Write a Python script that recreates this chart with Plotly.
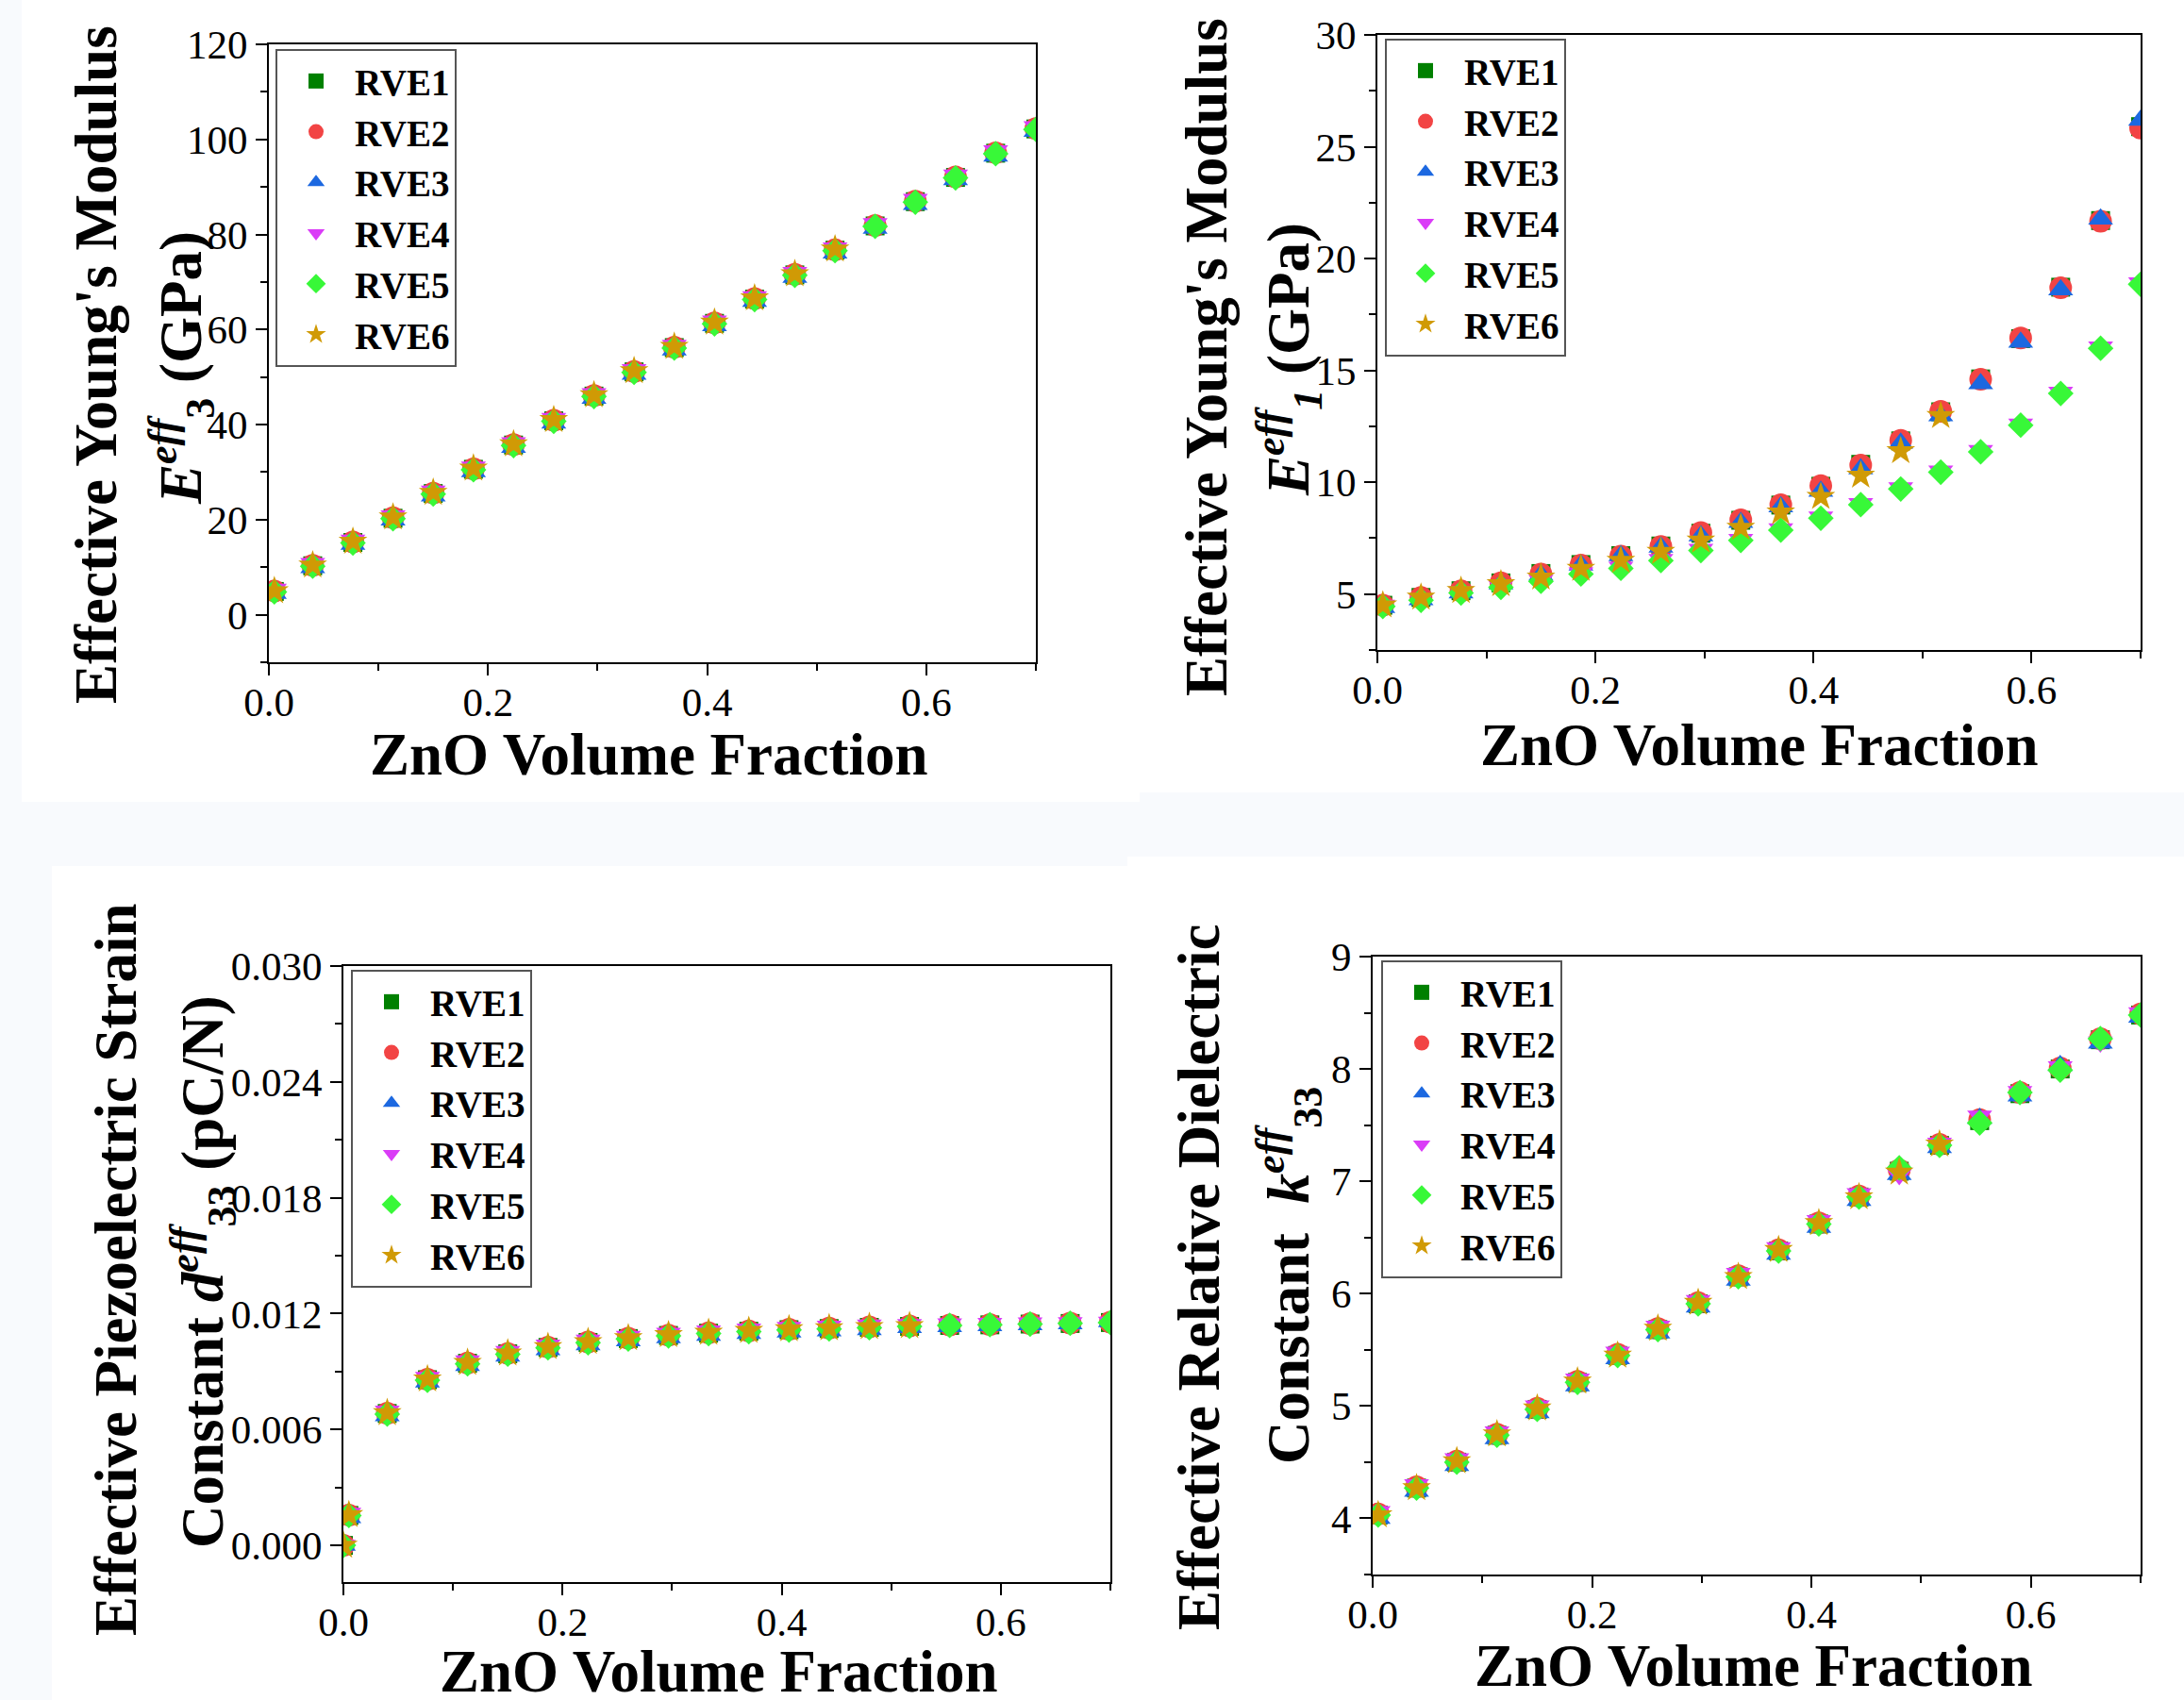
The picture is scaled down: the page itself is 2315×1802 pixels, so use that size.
import plotly.graph_objects as go

W, H = 2315, 1802

# ---------------- data ----------------
rve_names = ["RVE1", "RVE2", "RVE3", "RVE4", "RVE5", "RVE6"]

vf = [0.005, 0.04, 0.0767, 0.1133, 0.15, 0.1867, 0.2233, 0.26, 0.2967, 0.3333,
      0.37, 0.4067, 0.4433, 0.48, 0.5167, 0.5533, 0.59, 0.6267, 0.6633, 0.70]
vf_d33 = [0.0, 0.005, 0.04, 0.0767, 0.1133, 0.15, 0.1867, 0.2233, 0.26, 0.2967, 0.3333,
          0.37, 0.4067, 0.4433, 0.48, 0.5167, 0.5533, 0.59, 0.6267, 0.6633, 0.70]

# Effective Young's modulus E3 (GPa)
E3_RVE1 = [4.9, 10.3, 15.2, 20.3, 25.5, 30.6, 35.7, 40.8, 46.0, 51.1, 56.2, 61.3, 66.4, 71.5, 76.7, 81.8, 86.9, 92.0, 97.1, 102.2]
E3_RVE2 = [5.0, 10.4, 15.3, 20.4, 25.6, 30.7, 35.8, 40.9, 46.1, 51.2, 56.3, 61.4, 66.5, 71.6, 76.8, 81.9, 87.0, 92.1, 97.2, 102.3]
E3_RVE3 = [4.5, 9.9, 14.8, 19.9, 25.0, 30.1, 35.2, 40.3, 45.5, 50.6, 55.7, 60.8, 65.9, 71.0, 76.1, 81.3, 86.3, 91.5, 96.5, 101.7]
E3_RVE4 = [5.4, 10.8, 15.7, 20.8, 26.0, 31.1, 36.2, 41.3, 46.5, 51.6, 56.7, 61.8, 66.9, 72.0, 77.2, 82.3, 87.4, 92.5, 97.6, 102.7]
E3_RVE5 = [4.8, 10.2, 15.1, 20.2, 25.4, 30.5, 35.6, 40.7, 45.9, 51.0, 56.1, 61.2, 66.3, 71.4, 76.6, 81.7, 86.8, 91.9, 97.0, 102.1]
E3_RVE6 = [5.0, 10.4, 15.4, 20.5, 25.7, 30.8, 35.9, 41.0, 46.2, 51.3, 56.4, 61.5, 66.6, 71.7, 76.9]

# Effective Young's modulus E1 (GPa)
E1_RVE1 = [4.5, 4.85, 5.15, 5.5, 5.92, 6.32, 6.72, 7.15, 7.72, 8.3, 8.98, 9.82, 10.8, 11.85, 13.15, 14.62, 16.42, 18.72, 21.7, 25.9]
E1_RVE2 = [4.5, 4.85, 5.15, 5.5, 5.9, 6.3, 6.7, 7.13, 7.75, 8.32, 9.0, 9.85, 10.77, 11.87, 13.17, 14.6, 16.45, 18.7, 21.67, 25.83]
E1_RVE3 = [4.4, 4.75, 5.05, 5.45, 5.85, 6.3, 6.72, 7.1, 7.6, 8.2, 8.9, 9.6, 10.6, 11.75, 12.97, 14.4, 16.26, 18.6, 21.76, 26.18]
E1_RVE4 = [4.5, 4.78, 5.1, 5.35, 5.62, 5.95, 6.2, 6.55, 7.0, 7.45, 7.92, 8.45, 9.05, 9.75, 10.5, 11.42, 12.6, 14.03, 16.05, 18.92]
E1_RVE5 = [4.45, 4.72, 5.05, 5.3, 5.57, 5.9, 6.15, 6.5, 6.95, 7.4, 7.86, 8.39, 9.0, 9.7, 10.45, 11.36, 12.55, 13.97, 15.99, 18.85]
E1_RVE6 = [4.5, 4.85, 5.15, 5.45, 5.75, 6.14, 6.5, 6.9, 7.4, 7.97, 8.66, 9.35, 10.3, 11.4, 12.97]

# Effective piezoelectric strain constant d33 (pC/N)
D33_RVE1 = [0.0, 0.00155, 0.00683, 0.00858, 0.00943, 0.00992, 0.01025, 0.01051, 0.01071, 0.01087, 0.01099,
            0.01109, 0.01117, 0.01123, 0.01129, 0.01134, 0.01139, 0.01142, 0.01146, 0.01149, 0.01154]
D33_RVE2 = [0.0, 0.00157, 0.00685, 0.00860, 0.00945, 0.00994, 0.01027, 0.01053, 0.01073, 0.01089, 0.01101,
            0.01111, 0.01119, 0.01125, 0.01131, 0.01136, 0.01141, 0.01144, 0.01148, 0.01151, 0.01156]
D33_RVE3 = [0.0, 0.00143, 0.00671, 0.00846, 0.00931, 0.00980, 0.01013, 0.01039, 0.01059, 0.01075, 0.01087,
            0.01097, 0.01105, 0.01111, 0.01117, 0.01128, 0.01133, 0.01137, 0.01142, 0.01147, 0.01158]
D33_RVE4 = [0.0, 0.00167, 0.00695, 0.00870, 0.00955, 0.01004, 0.01037, 0.01063, 0.01083, 0.01099, 0.01111,
            0.01121, 0.01129, 0.01135, 0.01141, 0.01144, 0.01147, 0.01150, 0.01152, 0.01154, 0.01156]
D33_RVE5 = [0.0, 0.00155, 0.00680, 0.00855, 0.00940, 0.00990, 0.01023, 0.01049, 0.01069, 0.01085, 0.01097,
            0.01107, 0.01115, 0.01121, 0.01127, 0.01134, 0.01139, 0.01143, 0.01146, 0.01150, 0.01154]
D33_RVE6 = [0.0, 0.00158, 0.00686, 0.00861, 0.00946, 0.00995, 0.01028, 0.01054, 0.01074, 0.01090, 0.01102,
            0.01112, 0.01120, 0.01126, 0.01132, 0.01137]

# Effective relative dielectric constant k33
K33_RVE1 = [4.03, 4.27, 4.50, 4.74, 4.97, 5.21, 5.45, 5.68, 5.91, 6.15, 6.38, 6.62, 6.86, 7.09, 7.32, 7.54, 7.78, 8.00, 8.26, 8.48]
K33_RVE2 = [4.04, 4.28, 4.51, 4.75, 4.98, 5.22, 5.46, 5.69, 5.92, 6.16, 6.39, 6.63, 6.87, 7.10, 7.33, 7.55, 7.79, 8.01, 8.27, 8.49]
K33_RVE3 = [4.00, 4.24, 4.47, 4.71, 4.94, 5.18, 5.42, 5.65, 5.88, 6.12, 6.35, 6.59, 6.83, 7.06, 7.30, 7.56, 7.76, 8.03, 8.23, 8.46]
K33_RVE4 = [4.06, 4.30, 4.53, 4.77, 5.00, 5.24, 5.48, 5.71, 5.94, 6.18, 6.41, 6.65, 6.89, 7.06, 7.34, 7.58, 7.80, 8.02, 8.24, 8.50]
K33_RVE5 = [4.03, 4.27, 4.50, 4.74, 4.97, 5.21, 5.45, 5.68, 5.91, 6.15, 6.38, 6.62, 6.86, 7.12, 7.32, 7.52, 7.79, 7.99, 8.27, 8.48]
K33_RVE6 = [4.03, 4.27, 4.51, 4.75, 4.98, 5.22, 5.45, 5.69, 5.92, 6.15, 6.39, 6.63, 6.86, 7.08, 7.33]

x_title = "ZnO Volume Fraction"
y_titles = [
    ("Effective Young's Modulus", "<i>E</i><sup><i>eff</i></sup><sub>3</sub> (GPa)"),
    ("Effective Young's Modulus", "<i>E</i><sup><i>eff</i></sup><sub><i>1</i></sub> (GPa)"),
    ("Effective Piezoelectric Strain", "Constant <i>d</i><sup><i>eff</i></sup><sub>33</sub> (pC/N)"),
    ("Effective Relative Dielectric", "Constant  <i>k</i><sup><i>eff</i></sup><sub>33</sub>"),
]

# ---------------- styling ----------------
symbols = ["square", "circle", "triangle-up", "triangle-down", "diamond", "star"]
colors = ["#008000", "#F24444", "#1C68E0", "#DA3CF7", "#38F838", "#D09A05"]
sizes = [20, 24, 23, 23, 21, 23]
FONT = "Liberation Serif"

def fx(p):
    return p / W

def fy(p):
    return 1 - p / H

# plot-area pixel boxes: (left, right, top, bottom)
boxes = [
    (285, 1098, 47, 702),
    (1460, 2269, 37, 689),
    (364, 1177, 1024, 1677),
    (1455, 2269, 1014, 1669),
]

panels = [
    dict(x=vf, ys=[E3_RVE1, E3_RVE2, E3_RVE3, E3_RVE4, E3_RVE5, E3_RVE6],
         yrange=[-10, 120], dtick=20, mdtick=10, fmt=None),
    dict(x=vf, ys=[E1_RVE1, E1_RVE2, E1_RVE3, E1_RVE4, E1_RVE5, E1_RVE6],
         yrange=[2.5, 30], dtick=5, mdtick=2.5, fmt=None),
    dict(x=vf_d33, ys=[D33_RVE1, D33_RVE2, D33_RVE3, D33_RVE4, D33_RVE5, D33_RVE6],
         yrange=[-0.0019, 0.030], dtick=0.006, mdtick=0.003, fmt=".3f"),
    dict(x=vf, ys=[K33_RVE1, K33_RVE2, K33_RVE3, K33_RVE4, K33_RVE5, K33_RVE6],
         yrange=[3.5, 9], dtick=1, mdtick=0.5, fmt=None),
]

# title anchor centres in pixels: (x-title cx, cy), (line1 cx, cy), (line2 cx, cy)
title_pos = [
    ((688, 800), (102, 387), (192, 390)),
    ((1865, 790), (1279, 379), (1366, 381)),
    ((762, 1772), (123, 1346), (215, 1348)),
    ((1859, 1766), (1271, 1354), (1366, 1352)),
]

legend_pos = [(292, 52), (1468, 41), (372, 1028), (1464, 1018)]

fig = go.Figure()
layout = dict(
    width=W, height=H, margin=dict(l=0, r=0, t=0, b=0, autoexpand=False),
    paper_bgcolor="#F8FAFD", plot_bgcolor="white",
    font=dict(family=FONT, color="black"),
    showlegend=True,
)

annotations = []
for p, (panel, box) in enumerate(zip(panels, boxes)):
    n = p + 1
    sfx = "" if n == 1 else str(n)
    xa, ya = "x" + sfx, "y" + sfx
    leg = "legend" + sfx
    for i in range(6):
        ys = panel["ys"][i]
        fig.add_trace(go.Scatter(
            x=panel["x"][:len(ys)], y=ys, mode="markers", name=rve_names[i],
            marker=dict(symbol=symbols[i], color=colors[i], size=sizes[i], line=dict(width=0)),
            xaxis=xa, yaxis=ya, legend=leg, cliponaxis=True,
        ))
    l, r, t, b = box
    common = dict(showline=True, linecolor="black", linewidth=2, mirror=True,
                  ticks="outside", ticklen=12, tickwidth=2, tickcolor="black",
                  showgrid=False, zeroline=False, automargin=False,
                  tickfont=dict(family=FONT, size=43, color="black"))
    layout["xaxis" + sfx] = dict(
        common, domain=[fx(l), fx(r)], range=[0, 0.7], anchor=ya,
        tick0=0, dtick=0.2, tickformat=".1f", ticklabelstandoff=-9,
        minor=dict(ticks="outside", ticklen=7, tickwidth=2, tickcolor="black", dtick=0.1, tick0=0, showgrid=False),
    )
    ydict = dict(
        common, domain=[fy(b), fy(t)], range=panel["yrange"], anchor=xa,
        tick0=0, dtick=panel["dtick"], ticklabelstandoff=0,
        minor=dict(ticks="outside", ticklen=7, tickwidth=2, tickcolor="black",
                   dtick=panel["mdtick"], tick0=0, showgrid=False),
    )
    if panel["fmt"]:
        ydict["tickformat"] = panel["fmt"]
    layout["yaxis" + sfx] = ydict

    lx, ly = legend_pos[p]
    layout[leg] = dict(
        x=fx(lx), y=fy(ly), xanchor="left", yanchor="top", xref="paper", yref="paper",
        bgcolor="white", bordercolor="#555555", borderwidth=2,
        font=dict(family=FONT, size=39, color="black", weight="bold"),
        itemwidth=72, tracegroupgap=0,
    )

    (xt, l1, l2) = title_pos[p]
    tfont = dict(family=FONT, size=63, color="black", weight="bold")
    annotations.append(dict(
        text=x_title, x=fx(xt[0]), y=fy(xt[1]), xref="paper", yref="paper",
        xanchor="center", yanchor="middle", showarrow=False, font=tfont))
    annotations.append(dict(
        text=y_titles[p][0], x=fx(l1[0]), y=fy(l1[1]), xref="paper", yref="paper",
        xanchor="center", yanchor="middle", showarrow=False, textangle=-90, font=tfont))
    annotations.append(dict(
        text=y_titles[p][1], x=fx(l2[0]), y=fy(l2[1]), xref="paper", yref="paper",
        xanchor="center", yanchor="middle", showarrow=False, textangle=-90, font=tfont))

layout["annotations"] = annotations

# white panel backgrounds (pieces of the composite figure)
panel_bg = [(23, 1208, 0, 850), (1208, W, 0, 840), (55, 1195, 918, H), (1195, W, 908, H)]
layout["shapes"] = [
    dict(type="rect", xref="paper", yref="paper", x0=fx(a), x1=fx(b_), y0=fy(d), y1=fy(c),
         fillcolor="white", line=dict(width=0), layer="below")
    for (a, b_, c, d) in panel_bg
]

fig.update_layout(**layout)
fig.write_html("out.html", config={"displayModeBar": False},
               post_script="document.body.style.margin='0';document.body.style.overflow='hidden';")
